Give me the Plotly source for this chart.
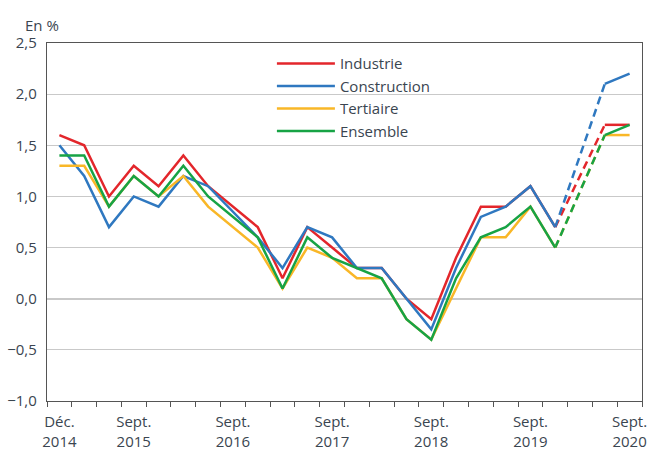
import plotly.graph_objects as go

quarters = ["Déc. 2014", "Mars 2015", "Juin 2015", "Sept. 2015", "Déc. 2015", "Mars 2016",
            "Juin 2016", "Sept. 2016", "Déc. 2016", "Mars 2017", "Juin 2017", "Sept. 2017",
            "Déc. 2017", "Mars 2018", "Juin 2018", "Sept. 2018", "Déc. 2018", "Mars 2019",
            "Juin 2019", "Sept. 2019", "Déc. 2019", "Mars 2020", "Juin 2020", "Sept. 2020"]

industrie = [1.6, 1.5, 1.0, 1.3, 1.1, 1.4, 1.1, 0.9, 0.7, 0.2, 0.7, 0.5,
             0.3, 0.3, 0.0, -0.2, 0.4, 0.9, 0.9, 1.1, 0.7, None, 1.7, 1.7]
construction = [1.5, 1.2, 0.7, 1.0, 0.9, 1.2, 1.1, 0.85, 0.6, 0.3, 0.7, 0.6,
                0.3, 0.3, 0.0, -0.3, 0.3, 0.8, 0.9, 1.1, 0.7, None, 2.1, 2.2]
tertiaire = [1.3, 1.3, 0.9, 1.2, 1.0, 1.2, 0.9, 0.7, 0.5, 0.1, 0.5, 0.4,
             0.2, 0.2, -0.2, -0.4, 0.1, 0.6, 0.6, 0.9, 0.5, None, 1.6, 1.6]
ensemble = [1.4, 1.4, 0.9, 1.2, 1.0, 1.3, 1.0, 0.8, 0.6, 0.1, 0.6, 0.4,
            0.3, 0.2, -0.2, -0.4, 0.2, 0.6, 0.7, 0.9, 0.5, None, 1.6, 1.7]

tick_idx = [0, 3, 7, 11, 15, 19, 23]
tick_labels = ["Déc.<br>2014", "Sept.<br>2015", "Sept.<br>2016", "Sept.<br>2017",
               "Sept.<br>2018", "Sept.<br>2019", "Sept.<br>2020"]

series = [
    ("Industrie", industrie, "#E3262B"),
    ("Construction", construction, "#2F78C0"),
    ("Tertiaire", tertiaire, "#F9B727"),
    ("Ensemble", ensemble, "#17A345"),
]

xs = list(range(len(quarters)))
gap = quarters.index("Mars 2020")

fig = go.Figure()
for name, vals, col in series:
    bx = [xs[gap - 1], xs[gap + 1]]
    by = [vals[gap - 1], vals[gap + 1]]
    fig.add_trace(go.Scatter(x=bx, y=by, mode="lines", showlegend=False,
                             line=dict(color=col, width=2.5, dash="8px,5px"),
                             hoverinfo="skip"))
for name, vals, col in series:
    fig.add_trace(go.Scatter(x=xs, y=vals, mode="lines", name=name,
                             connectgaps=False,
                             line=dict(color=col, width=2.5)))

fig.update_layout(
    width=656, height=452,
    margin=dict(l=47, r=14, t=43, b=51),
    plot_bgcolor="white", paper_bgcolor="white",
    separators=", ",
    font=dict(family="Open Sans", size=15, color="#3a4550"),
    legend=dict(x=0.378, y=0.988, xanchor="left", yanchor="top",
                bgcolor="rgba(0,0,0,0)", font=dict(size=15),
                itemwidth=58, tracegroupgap=0),
    xaxis=dict(range=[-0.5, len(quarters) - 0.5], tickmode="array",
               tickvals=tick_idx, ticktext=tick_labels, ticks="", showgrid=False,
               showline=True, linecolor="#555555", linewidth=1.3, mirror=True,
               zeroline=False, ticklabelstandoff=7, automargin=False,
               minor=dict(tickmode="linear", tick0=-0.5, dtick=1, ticks="outside",
                          ticklen=5, tickcolor="#555555", showgrid=False)),
    yaxis=dict(range=[-1.0, 2.5], dtick=0.5, tick0=-1.0, tickformat=".1f",
               showgrid=True, gridcolor="#c9c9c9", gridwidth=1.2,
               zeroline=True, zerolinecolor="#c9c9c9", zerolinewidth=1.5,
               showline=True, linecolor="#555555", linewidth=1.3, mirror=True,
               ticks="", ticklabelstandoff=6, automargin=False),
    annotations=[dict(text="En %", xref="paper", yref="paper", x=-0.04, y=1.018,
                      xanchor="left", yanchor="bottom", showarrow=False,
                      font=dict(size=15, color="#3a4550"))],
)

fig.write_html("out.html", config={"displayModeBar": False},
               post_script="document.body.style.margin='0';")
